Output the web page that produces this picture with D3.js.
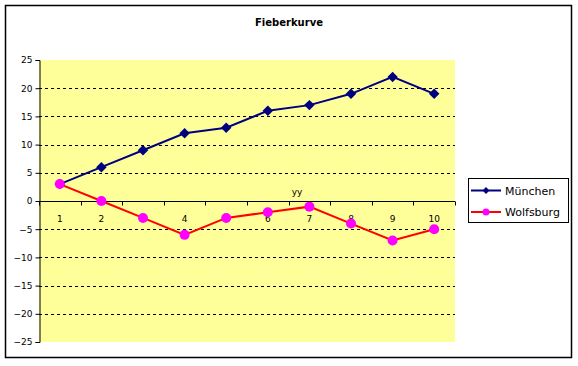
<!DOCTYPE html>
<html>
<head>
<meta charset="utf-8">
<script src="https://cdn.jsdelivr.net/npm/d3@7.9.0/dist/d3.min.js"></script>
<style>
  body { margin: 0; background: #fff; }
  svg { display: block; font-family: "DejaVu Sans", sans-serif; }
</style>
</head>
<body>
<svg id="chart" width="578" height="366"></svg>
<script>
// chart data
const categories = ['1', '2', '3', '4', '5', '6', '7', '8', '9', '10'];
const muenchen = [3, 6, 9, 12, 13, 16, 17, 19, 22, 19];
const wolfsburg = [3, 0, -3, -6, -3, -2, -1, -4, -7, -5];
const yTicks = [25, 20, 15, 10, 5, 0, -5, -10, -15, -20, -25];

const series = [
  { name: 'München', values: muenchen, line: '#000080', marker: '#000080', shape: 'diamond' },
  { name: 'Wolfsburg', values: wolfsburg, line: '#ff0000', marker: '#ff00ff', shape: 'circle' }
];

const svg = d3.select('#chart');
const plot = { left: 39, right: 455, top: 60, bottom: 342 };

// outer frame
svg.append('rect')
  .attr('x', 5.5).attr('y', 5.5)
  .attr('width', 566).attr('height', 352)
  .attr('fill', '#fff').attr('stroke', '#000').attr('stroke-width', 1.5);

svg.append('text')
  .attr('x', 289).attr('y', 26)
  .attr('text-anchor', 'middle')
  .attr('font-size', 10).attr('font-weight', 'bold')
  .text('Fieberkurve');

const x = d3.scaleBand().domain(categories).range([plot.left, plot.right]);
const y = d3.scaleLinear().domain([-25, 25]).range([plot.bottom, plot.top]);

// plot background
svg.append('rect')
  .attr('x', plot.left).attr('y', plot.top)
  .attr('width', plot.right - plot.left).attr('height', plot.bottom - plot.top)
  .attr('fill', '#ffff99');

// dashed gridlines
svg.append('g').selectAll('line')
  .data(yTicks.filter(d => d !== 0 && Math.abs(d) !== 25))
  .join('line')
  .attr('x1', plot.left).attr('x2', plot.right)
  .attr('y1', d => Math.round(y(d)) + 0.5).attr('y2', d => Math.round(y(d)) + 0.5)
  .attr('stroke', '#000').attr('stroke-dasharray', '3,3');

// y axis
const yAxis = svg.append('g')
  .attr('transform', `translate(${plot.left + 0.5},0)`)
  .call(d3.axisLeft(y).tickValues(yTicks).tickSize(4).tickPadding(3).tickFormat(d3.format('d')));
yAxis.select('.domain').attr('stroke', '#000');
yAxis.selectAll('text').attr('font-size', 9).attr('font-family', '"DejaVu Sans", sans-serif').attr('fill', '#000');

// x axis at zero line
const y0 = Math.round(y(0)) + 0.5;
svg.append('line')
  .attr('x1', plot.left).attr('x2', plot.right)
  .attr('y1', y0).attr('y2', y0)
  .attr('stroke', '#000');
const bounds = categories.map(c => x(c)).concat([plot.right]);
svg.append('g').selectAll('line')
  .data(bounds)
  .join('line')
  .attr('x1', d => Math.round(d) + 0.5).attr('x2', d => Math.round(d) + 0.5)
  .attr('y1', y0).attr('y2', y0 + 4)
  .attr('stroke', '#000');
svg.append('g').selectAll('text')
  .data(categories)
  .join('text')
  .attr('x', d => x(d) + x.bandwidth() / 2)
  .attr('y', y0 + 20)
  .attr('text-anchor', 'middle')
  .attr('font-size', 9)
  .text(d => d);

svg.append('text')
  .attr('x', 297).attr('y', 195)
  .attr('text-anchor', 'middle')
  .attr('font-size', 9)
  .text('yy');

// series lines and markers
const line = d3.line()
  .x((d, i) => x(categories[i]) + x.bandwidth() / 2)
  .y(d => y(d));

const diamond = d3.symbol().type(d3.symbolDiamond2).size(70);

series.forEach(s => {
  svg.append('path')
    .attr('d', line(s.values))
    .attr('fill', 'none')
    .attr('stroke', s.line)
    .attr('stroke-width', 2);

  const g = svg.append('g');
  s.values.forEach((v, i) => {
    const cx = x(categories[i]) + x.bandwidth() / 2;
    if (s.shape === 'diamond') {
      g.append('path')
        .attr('d', diamond())
        .attr('transform', `translate(${cx},${y(v)})`)
        .attr('fill', s.marker);
    } else {
      g.append('circle')
        .attr('cx', cx).attr('cy', y(v)).attr('r', 5)
        .attr('fill', s.marker);
    }
  });
});

// legend
const legend = svg.append('g');
legend.append('rect')
  .attr('x', 468.5).attr('y', 178.5)
  .attr('width', 100).attr('height', 44)
  .attr('fill', '#fff').attr('stroke', '#000');

series.forEach((s, i) => {
  const ly = 190.5 + i * 21.5;
  legend.append('line')
    .attr('x1', 471).attr('x2', 501)
    .attr('y1', ly).attr('y2', ly)
    .attr('stroke', s.line).attr('stroke-width', 2);
  if (s.shape === 'diamond') {
    legend.append('path')
      .attr('d', d3.symbol().type(d3.symbolDiamond2).size(30)())
      .attr('transform', `translate(486,${ly})`)
      .attr('fill', s.marker);
  } else {
    legend.append('circle')
      .attr('cx', 486).attr('cy', ly).attr('r', 3.5)
      .attr('fill', s.marker);
  }
  legend.append('text')
    .attr('x', 505).attr('y', ly + 4)
    .attr('font-size', 11)
    .text(s.name);
});
</script>
</body>
</html>
